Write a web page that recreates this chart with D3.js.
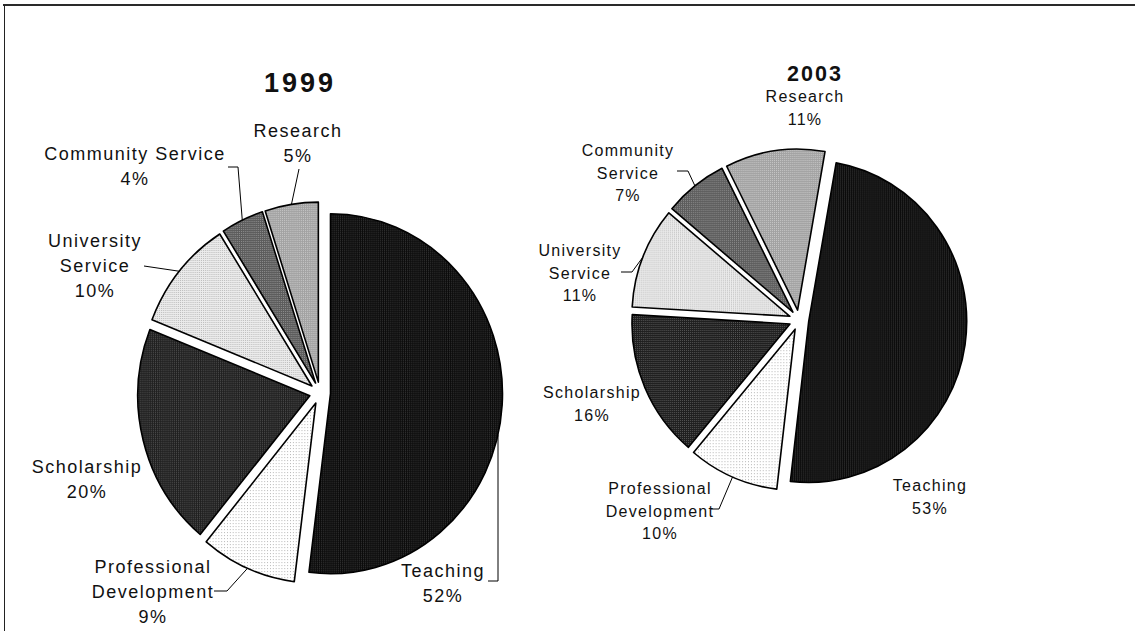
<!DOCTYPE html>
<html><head><meta charset="utf-8">
<script src="https://cdn.jsdelivr.net/npm/d3@7"></script>
<style>
body{margin:0;background:#fff}
svg{display:block}
text{font-family:"Liberation Sans",Arial,sans-serif;fill:#111}
</style>
</head><body>
<svg id="chart" width="1135" height="631"></svg>
<script>
// ---- data ----
const categories = ["Teaching","Professional Development","Scholarship","University Service","Community Service","Research"];
const years = ["1999","2003"];
const values1999 = [52, 9, 20, 10, 4, 5];
const values2003 = [53, 10, 16, 11, 7, 11];
const labelLines1999 = [["Teaching"],["Professional","Development"],["Scholarship"],["University","Service"],["Community Service"],["Research"]];
const labelLines2003 = [["Teaching"],["Professional","Development"],["Scholarship"],["University","Service"],["Community","Service"],["Research"]];

// ---- styling / layout ----
const fills = [
  {base:"#0b0b0b", dot:"#3c3c3c", step:2},
  {base:"#ffffff", dot:"#b4b4b4", step:3},
  {base:"#1f1f1f", dot:"#555555", step:2},
  {base:"#ebebeb", dot:"#bdbdbd", step:2},
  {base:"#5c5c5c", dot:"#8e8e8e", step:2},
  {base:"#a2a2a2", dot:"#c9c9c9", step:2}
];
const pies = [
  {values:values1999, lines:labelLines1999, cx:320, cy:393, ry:180, rx:172, explode:11, start:0,
   title:{x:300, y:92, size:27, spacing:3},
   font:18, lh:25, spacing:1.5,
   labels:[
     {x:443, y:577, leader:[[488,581],[498,581],[498,"arc"]]},
     {x:153, y:573, leader:[[214,591],[227,591]]},
     {x:87,  y:473, leader:null},
     {x:95,  y:247, leader:[[144,266]]},
     {x:135, y:160, leader:[[228,167],[238,167]]},
     {x:298, y:137, leader:[[299,169]]}
   ]},
  {values:values2003, lines:labelLines2003, cx:799, cy:320, ry:161, rx:158, explode:10, start:10,
   title:{x:815, y:81, size:21.5, spacing:2},
   font:16, lh:22.5, spacing:1.3,
   labels:[
     {x:930, y:491, leader:null},
     {x:660, y:494, leader:[[711,509],[719,509]]},
     {x:592, y:398, leader:null},
     {x:580, y:256, leader:[[621,272],[632,272]]},
     {x:628, y:156, leader:[[677,171],[688,171]]},
     {x:805, y:102, leader:null}
   ]}
];

const svg = d3.select("#chart");
const defs = svg.append("defs");
fills.forEach((f,i)=>{
  const p = defs.append("pattern").attr("id","pat"+i).attr("patternUnits","userSpaceOnUse")
    .attr("width",f.step).attr("height",f.step);
  p.append("rect").attr("width",f.step).attr("height",f.step).attr("fill",f.base);
  p.append("rect").attr("width",1).attr("height",1).attr("fill",f.dot);
});

// frame
svg.append("line").attr("x1",3).attr("x2",1135).attr("y1",5).attr("y2",5).attr("stroke","#2a2a2a").attr("stroke-width",2);
svg.append("line").attr("x1",4.5).attr("x2",4.5).attr("y1",5).attr("y2",631).attr("stroke","#222").attr("stroke-width",1);

pies.forEach((P,pi)=>{
  const toRad = Math.PI/180;
  const pie = d3.pie().sort(null).value(d=>d)
     .startAngle(P.start*toRad).endAngle(P.start*toRad + 2*Math.PI);
  const arcs = pie(P.values);
  const arc = d3.arc().innerRadius(0).outerRadius(P.ry);
  const sx = P.rx/P.ry;
  const g = svg.append("g").attr("transform",`translate(${P.cx},${P.cy}) scale(${sx},1)`);
  g.selectAll("path").data(arcs).join("path")
    .attr("transform",d=>{const a=(d.startAngle+d.endAngle)/2; return `translate(${P.explode*Math.sin(a)},${-P.explode*Math.cos(a)})`;})
    .attr("d",arc)
    .attr("fill",(d,i)=>`url(#pat${i})`)
    .attr("stroke","#000").attr("stroke-width",1.6).attr("stroke-linejoin","round")
    .attr("vector-effect","non-scaling-stroke");

  // title
  svg.append("text").attr("x",P.title.x).attr("y",P.title.y).attr("text-anchor","middle")
    .attr("font-size",P.title.size).attr("font-weight","bold").attr("letter-spacing",P.title.spacing)
    .text(years[pi]);

  // labels
  arcs.forEach((d,i)=>{
    const L = P.labels[i];
    const lines = P.lines[i].concat([d.data+"%"]);
    const t = svg.append("text").attr("text-anchor","middle").attr("font-size",P.font).attr("letter-spacing",P.spacing);
    lines.forEach((s,k)=>t.append("tspan").attr("x",L.x).attr("y",L.y+k*P.lh).text(s));
    if(L.leader){
      const a = (d.startAngle+d.endAngle)/2;
      let pts = L.leader.slice();
      const last = pts[pts.length-1];
      if(last[1]==="arc"){
        const ax = P.cx + sx*P.explode*Math.sin(a);
        const ay = P.cy - P.explode*Math.cos(a);
        const u = (last[0]-ax)/P.rx;
        const yy = ay + P.ry*Math.sqrt(Math.max(0,1-u*u));
        pts[pts.length-1] = [last[0], yy];
      } else {
        pts.push([P.cx + sx*(P.explode+P.ry)*Math.sin(a), P.cy - (P.explode+P.ry)*Math.cos(a)]);
      }
      svg.append("path").attr("d",d3.line()(pts)).attr("fill","none").attr("stroke","#000").attr("stroke-width",1);
    }
  });
});
</script>
</body></html>
